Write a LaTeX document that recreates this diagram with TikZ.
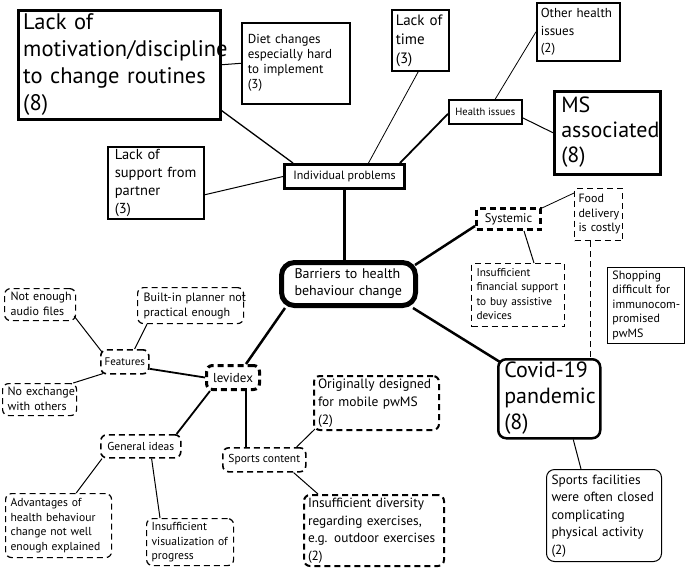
\documentclass[tikz,border=0pt]{standalone}
\usepackage{fontspec}
\setmainfont{PT Sans}
\usetikzlibrary{calc}
\newcommand\fsz[2]{\fontsize{#1}{#2}\selectfont}
\newcommand\tb[1]{\begin{tabular}{@{}l@{}}#1\end{tabular}}
\begin{document}
\begin{tikzpicture}[x=1pt,y=-1pt,
  bx/.style={draw, anchor=north west, align=left, inner ysep=0pt},
  sbox/.style={bx, line width=#1},
  rbox/.style={bx, line width=#1, rounded corners=8pt},
  dbox/.style={bx, line width=#1, dash pattern=on 6pt off 4pt},
  drbox/.style={bx, line width=#1, dash pattern=on 6pt off 4pt, rounded corners=6pt},
  ln/.style={line width=#1},
]
\useasboundingbox (0,0) rectangle (685,568);

% --- individual problems branch
\node[sbox=2.5pt, minimum width=202, minimum height=109, text width=192pt, inner xsep=5pt, font=\fsz{22.5}{27}] (mot) at (17,9)
  {\tb{Lack of\\motivation/discipline\\to change routines\\(8)}};
\node[sbox=1.6pt, minimum width=108, minimum height=81, text width=96pt, inner xsep=6pt, font=\fsz{13}{15}] (diet) at (241,22)
  {\tb{Diet changes\\especially hard\\to implement\\(3)}};
\node[sbox=1.6pt, minimum width=57, minimum height=61, text width=49pt, inner xsep=4pt, font=\fsz{15}{19}] (time) at (391,9)
  {\tb{Lack of\\time\\(3)}};
\node[sbox=1.6pt, minimum width=83, minimum height=58, text width=75pt, inner xsep=4pt, font=\fsz{13}{17.5}] (other) at (536,2)
  {\tb{Other health\\issues\\(2)}};
\node[sbox=1.6pt, minimum width=73, minimum height=24, align=center, font=\fsz{10.5}{12}] (health) at (448,99)
  {Health issues};
\node[sbox=2.5pt, minimum width=106, minimum height=83, text width=92pt, inner xsep=7pt, font=\fsz{22}{25}] (ms) at (553,90)
  {\tb{MS\\associated\\(8)}};
\node[sbox=3pt, minimum width=120, minimum height=24, align=center, font=\fsz{12}{14}] (indiv) at (283,163)
  {Individual problems};
\node[sbox=1.6pt, minimum width=96, minimum height=62, text width=82pt, inner xsep=7pt, font=\fsz{14.5}{18}] (support) at (107,146)
  {\tb{Lack of\\support from\\partner\\(3)}};

% --- centre
\node[rbox=5pt, rounded corners=13pt, minimum width=134, minimum height=43, text width=108pt, inner xsep=3pt, font=\fsz{14}{16.7}] (barriers) at (279,260)
  {\tb{Barriers to health\\behaviour change}};

% --- systemic
\node[dbox=3pt, minimum width=64, minimum height=21, align=center, font=\fsz{12.5}{14}] (systemic) at (475,207)
  {Systemic};
\node[dbox=1pt, minimum width=48, minimum height=52, text width=40pt, inner xsep=4pt, font=\fsz{12}{14.5}] (food) at (574,188)
  {\tb{Food\\delivery\\is costly}};
\node[dbox=1pt, minimum width=93, minimum height=63, text width=83pt, inner xsep=5pt, font=\fsz{11.3}{14.5}] (financial) at (471,263)
  {\tb{Insufficient\\financial support\\to buy assistive\\devices}};
\node[sbox=0.9pt, minimum width=77, minimum height=76, text width=67pt, inner xsep=5pt, font=\fsz{12}{14.4}] (shopping) at (607,267)
  {\tb{Shopping\\difficult for\\immunocom-\\promised\\pwMS}};

% --- covid
\node[rbox=2.5pt, minimum width=102, minimum height=79, text width=90pt, inner xsep=6pt, font=\fsz{22}{26}] (covid) at (497,358)
  {\tb{Covid-19\\pandemic\\(8)}};
\node[rbox=1pt, minimum width=115, minimum height=92, text width=105pt, inner xsep=5pt, font=\fsz{13.3}{17.5}] (facilities) at (546,469)
  {\tb{Sports facilities\\were often closed\\complicating\\physical activity\\(2)}};

% --- levidex
\node[drbox=3pt, minimum width=53, minimum height=24, align=center, font=\fsz{13}{15}] (levidex) at (205,364)
  {levidex};
\node[drbox=1.6pt, minimum width=48, minimum height=24, align=center, inner xsep=1pt, font=\fsz{11}{13}] (features) at (100,349)
  {Features};
\node[drbox=1.6pt, minimum width=80, minimum height=23, align=center, font=\fsz{11.5}{13}] (general) at (100,434)
  {General ideas};
\node[drbox=1.6pt, minimum width=83, minimum height=24, align=center, inner xsep=1pt, font=\fsz{11.5}{13}] (sports) at (222,447)
  {Sports content};
\node[drbox=2pt, minimum width=125, minimum height=53, text width=117pt, inner xsep=4pt, font=\fsz{13.5}{18}] (orig) at (313,375)
  {\tb{Originally designed\\for mobile pwMS\\(2)}};
\node[drbox=2pt, minimum width=140, minimum height=71, text width=132pt, inner xsep=4pt, font=\fsz{13.3}{17.5}] (diversity) at (303,494)
  {\tb{Insufficient diversity\\regarding exercises,\\e.g. outdoor exercises\\(2)}};
\node[drbox=1.2pt, minimum width=71, minimum height=32, text width=59pt, inner xsep=6pt, font=\fsz{12}{15}] (notenough) at (4,288)
  {\tb{Not enough\\audio files}};
\node[drbox=1.2pt, minimum width=106, minimum height=36, text width=94pt, inner xsep=6pt, font=\fsz{12}{15}] (builtin) at (137,287)
  {\tb{Built-in planner not\\practical enough}};
\node[drbox=1.2pt, minimum width=74, minimum height=32, text width=64pt, inner xsep=5pt, font=\fsz{12}{15}] (noexch) at (2,383)
  {\tb{No exchange\\with others}};
\node[drbox=1.2pt, minimum width=106, minimum height=64, text width=96pt, inner xsep=5pt, font=\fsz{11.6}{14.5}] (advantages) at (5,493)
  {\tb{Advantages of\\health behaviour\\change not well\\enough explained}};
\node[drbox=1.2pt, minimum width=87, minimum height=47, text width=77pt, inner xsep=5pt, font=\fsz{11.6}{14.5}] (visual) at (146,518)
  {\tb{Insufficient\\visualization of\\progress}};

% --- connectors
\coordinate (indb) at (indiv.south);
\draw[ln=3pt] (indb) -- (indb |- barriers.north);
\draw[ln=1.3pt] ([yshift=10pt]mot.south east) -- ([xshift=10pt]indiv.north west);
\draw[ln=1pt] (mot.east) -- (diet.west);
\draw[ln=1pt] ([yshift=-12pt]support.east) -- (indiv.west);
\draw[ln=0.8pt] ([xshift=24pt]indiv.north) -- ([xshift=-2pt]time.south);
\draw[ln=1.8pt] ([xshift=-6pt]indiv.north east) -- ([yshift=-2pt]health.west);
\draw[ln=0.8pt] ([xshift=10pt]health.north) -- (other.west);
\draw[ln=1pt] ([yshift=-6pt]health.east) -- (ms.west);

\draw[ln=2.5pt] ([xshift=-3pt,yshift=-5pt]barriers.north east) -- ([yshift=5pt]systemic.south west);
\draw[ln=0.8pt] ([yshift=-1pt]systemic.north east) -- ([yshift=-5pt]food.north west);
\draw[ln=1pt] ([xshift=-18pt]systemic.south east) -- ([xshift=-31pt]financial.north east);
\coordinate (fdb) at ([xshift=-8pt]food.south);
\draw[ln=1pt, dash pattern=on 6pt off 4pt] (fdb) -- (fdb |- covid.north);
\draw[ln=2.5pt] ([xshift=-5pt]barriers.south east) -- ([xshift=3pt,yshift=-4pt]covid.north west);
\draw[ln=1pt] ([xshift=24pt]covid.south) -- ([xshift=-23pt]facilities.north);

\draw[ln=2.5pt] ([xshift=6pt]barriers.south west) -- ([xshift=-15pt]levidex.north east);
\draw[ln=1.8pt] ([yshift=-7pt]features.east) -- (levidex.west);
\draw[ln=1.8pt] ([xshift=5pt]levidex.south west) -- ([xshift=-5pt]general.north east);
\coordinate (lvb) at ([xshift=-15pt]levidex.south east);
\draw[ln=1.8pt] (lvb) -- (lvb |- sports.north);
\draw[ln=1pt] ([xshift=2pt,yshift=-3pt]features.north west) -- ([xshift=-2pt,yshift=5pt]notenough.south east);
\draw[ln=1pt] ([xshift=-15pt]features.north east) -- ([xshift=10pt]builtin.south west);
\draw[ln=1pt] ([xshift=3pt,yshift=1pt]features.south west) -- ([xshift=-4pt]noexch.north east);
\draw[ln=1pt] ([xshift=2pt]general.south west) -- ([xshift=-36pt]advantages.north east);
\draw[ln=1pt] ([xshift=-30pt]general.south east) -- ([xshift=14pt]visual.north west);
\draw[ln=1pt] ([xshift=-10pt]sports.north east) -- ([xshift=2pt,yshift=2pt]orig.south west);
\draw[ln=1pt] ([xshift=-13pt]sports.south east) -- ([xshift=15pt]diversity.north west);
\end{tikzpicture}
\end{document}
